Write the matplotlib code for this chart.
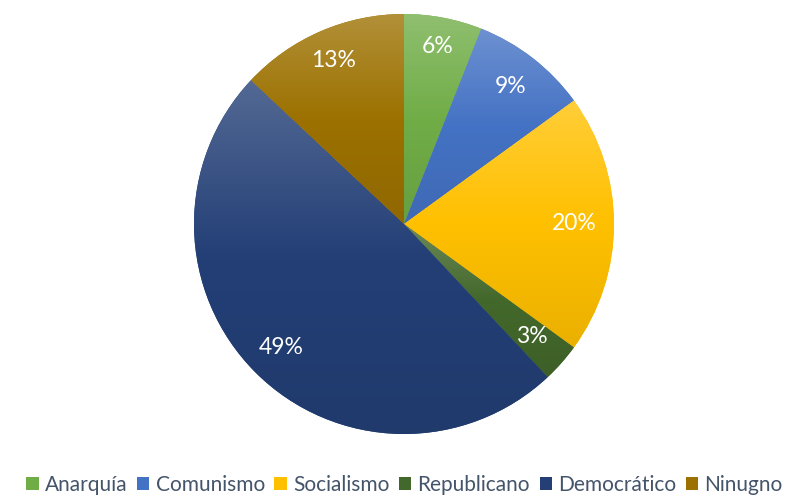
import matplotlib
matplotlib.use("Agg")
import matplotlib.pyplot as plt
import numpy as np
from matplotlib.colors import to_rgb
from matplotlib.patches import Patch

categories = ["Anarquía", "Comunismo", "Socialismo", "Republicano", "Democrático", "Ninugno"]
values = [6, 9, 20, 3, 49, 13]
colors = ["#70AD47", "#4472C4", "#FFC000", "#43682B", "#233F76", "#9C7100"]

plt.rcParams['font.family'] = ['Lato', 'DejaVu Sans']

W, H = 809, 496
fig = plt.figure(figsize=(W / 100, H / 100), dpi=100)
cx, cy, R = 404, 224, 210
ax = fig.add_axes([(cx - R) / W, (H - cy - R) / H, 2 * R / W, 2 * R / H])
ax.set_xlim(-1, 1)
ax.set_ylim(-1, 1)
ax.set_aspect('equal')
ax.axis('off')

wedges, texts, autotexts = ax.pie(
    values, colors=colors, startangle=90, counterclock=False,
    autopct='%1.0f%%', pctdistance=0.83, radius=1,
    wedgeprops=dict(linewidth=0), textprops=dict(color='white', fontsize=16.5))


def mix(c, t, f):
    c = np.array(c)
    return c + (np.array(t) - c) * f


for w, col in zip(wedges, colors):
    base = np.array(to_rgb(col))
    top = mix(base, (1, 1, 1), 0.22)
    bot = base * 0.92
    ys = w.get_path().vertices[:, 1]
    y0, y1 = ys.min(), ys.max()
    n = 256
    t = np.linspace(0, 1, n)[:, None]  # 0 = top, 1 = bottom
    grad = np.where(t < 0.5,
                    top + (base - top) * (t / 0.5),
                    base + (bot - base) * ((t - 0.5) / 0.5))
    img = grad[:, None, :].repeat(2, axis=1)
    im = ax.imshow(img, extent=(-1, 1, y0, y1), origin='upper',
                   interpolation='bilinear', zorder=w.get_zorder() + 0.1, aspect='auto')
    im.set_clip_path(w)

ax.set_xlim(-1, 1)
ax.set_ylim(-1, 1)

label_r = [0.86, 0.83, 0.81, 0.81, 0.83, 0.85]
cum = 0
for i, (v, tx) in enumerate(zip(values, autotexts)):
    mid = 90 - (cum + v / 2) / sum(values) * 360
    cum += v
    a = np.deg2rad(mid)
    r = label_r[i]
    tx.set_position((r * np.cos(a), r * np.sin(a)))
    tx.set_zorder(10)

handles = [Patch(facecolor=c, edgecolor='none') for c in colors]
fig.legend(handles, categories, loc='lower center', ncol=6, frameon=False,
           bbox_to_anchor=(0.5, -0.035), fontsize=15, labelcolor='#44546A',
           handlelength=0.6, handleheight=0.6, handletextpad=0.3, columnspacing=0.45)

fig.savefig("out.png", dpi=100)
